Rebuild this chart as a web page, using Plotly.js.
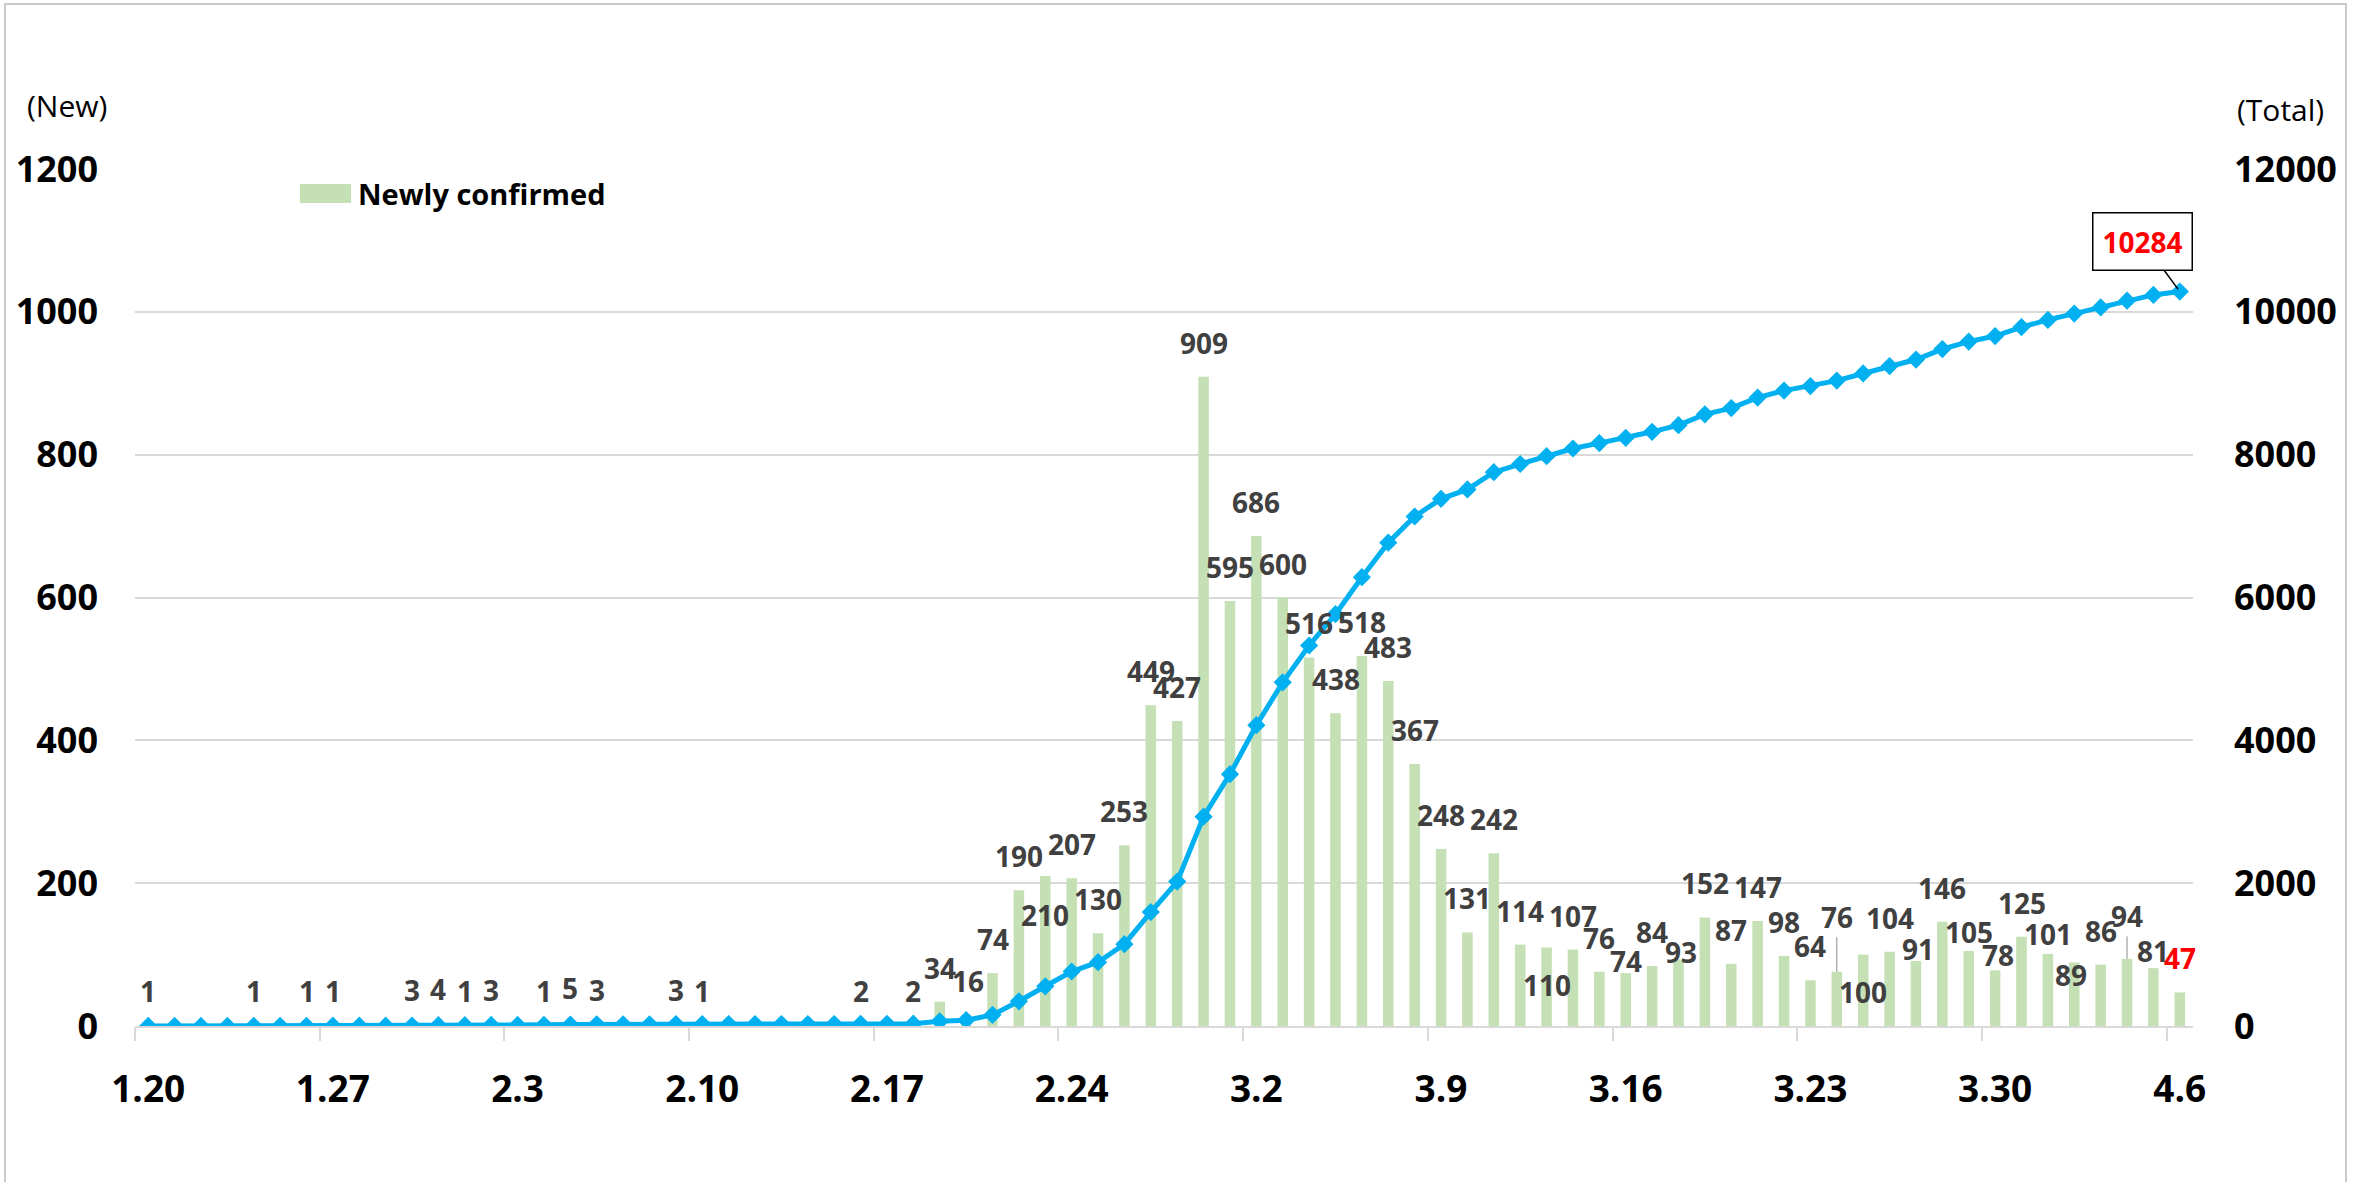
<!DOCTYPE html>
<html>
<head>
<meta charset="utf-8">
<script src="https://cdn.plot.ly/plotly-3.0.1.min.js"></script>
<style>
  html, body { margin: 0; padding: 0; background: #fff; }
  #chart { width: 2371px; height: 1182px; }
  #frame { position: absolute; left: 4px; top: 3px; width: 2339px; height: 1190px;
           border: 2px solid #CACACA; pointer-events: none; }
</style>
</head>
<body>
<div id="chart"></div>
<div id="frame"></div>
<script>
// ---- data ----
const dates = ["1.20","1.21","1.22","1.23","1.24","1.25","1.26","1.27","1.28","1.29",
  "1.30","1.31","2.1","2.2","2.3","2.4","2.5","2.6","2.7","2.8",
  "2.9","2.10","2.11","2.12","2.13","2.14","2.15","2.16","2.17","2.18",
  "2.19","2.20","2.21","2.22","2.23","2.24","2.25","2.26","2.27","2.28",
  "2.29","3.1","3.2","3.3","3.4","3.5","3.6","3.7","3.8","3.9",
  "3.10","3.11","3.12","3.13","3.14","3.15","3.16","3.17","3.18","3.19",
  "3.20","3.21","3.22","3.23","3.24","3.25","3.26","3.27","3.28","3.29",
  "3.30","3.31","4.1","4.2","4.3","4.4","4.5","4.6"];
const newlyConfirmed = [1,0,0,0,1,0,1,1,0,0,
  3,4,1,3,0,1,5,3,0,0,
  3,1,0,0,0,0,0,2,0,2,
  34,16,74,190,210,207,130,253,449,427,
  909,595,686,600,516,438,518,483,367,248,
  131,242,114,110,107,76,74,84,93,152,
  87,147,98,64,76,100,104,91,146,105,
  78,125,101,89,86,94,81,47];
const totalConfirmed = [1,1,1,1,2,2,3,4,4,4,
  7,11,12,15,15,16,21,24,24,24,
  27,28,28,28,28,28,28,30,30,32,
  66,82,156,346,556,763,893,1146,1595,2022,
  2931,3526,4212,4812,5328,5766,6284,6767,7134,7382,
  7513,7755,7869,7979,8086,8162,8236,8320,8413,8565,
  8652,8799,8897,8961,9037,9137,9241,9332,9478,9583,
  9661,9786,9887,9976,10062,10156,10237,10284];
const tickLabels = ["1.20","1.27","2.3","2.10","2.17","2.24","3.2","3.9","3.16","3.23","3.30","4.6"];
const leftTicks = [0,200,400,600,800,1000,1200];
const rightTicks = [0,2000,4000,6000,8000,10000,12000];

// ---- label placement tweaks (style only, pixels above bar top) ----
const defaultLift = 34;
const liftOverride = {34:-39, 53:-38, 56:12, 58:8, 65:-37, 67:12, 69:19, 70:15, 72:20, 73:-13, 76:17};
const nudgeX = {58:2, 67:2, 70:3, 73:-3, 31:2};
const leaderLift = {64:55, 75:43};
const redLabel = {77:true};

// ---- geometry ----
const W = 2371, H = 1182;
const M = {l:135, r:178, t:169, b:156};
const PW = W - M.l - M.r, PH = H - M.t - M.b;
const px = v => (v - M.l) / PW;
const py = v => (H - M.b - v) / PH;

const FONT = "Open Sans, Noto Sans, DejaVu Sans, sans-serif";
const idx = dates.map((d, i) => i);
const tickvals = tickLabels.map(t => dates.indexOf(t));

const bars = {
  type: 'bar', x: idx, y: newlyConfirmed, yaxis: 'y', width: 0.4,
  marker: {color: '#C5E0B4'}, hoverinfo: 'skip', showlegend: false
};
const line = {
  type: 'scatter', mode: 'lines+markers', x: idx, y: totalConfirmed, yaxis: 'y2',
  line: {color: '#00B0F0', width: 5},
  marker: {symbol: 'diamond', size: 14, color: '#00B0F0'},
  hoverinfo: 'skip', showlegend: false
};

const annotations = [];
newlyConfirmed.forEach((v, i) => {
  if (!v) return;
  const color = redLabel[i] ? '#FF0000' : '#404040';
  const base = {x: i, y: v, xref: 'x', yref: 'y', text: String(v),
    font: {family: FONT, size: 28, color: color, weight: 'bold'}};
  if (leaderLift[i] !== undefined) {
    annotations.push(Object.assign(base, {showarrow: true, arrowhead: 0, arrowwidth: 1,
      arrowcolor: '#8C8C8C', ax: 0, ay: -leaderLift[i], standoff: 0}));
  } else {
    const lift = liftOverride[i] !== undefined ? liftOverride[i] : defaultLift;
    annotations.push(Object.assign(base, {showarrow: false, yshift: lift,
      xshift: nudgeX[i] || 0, yanchor: 'middle'}));
  }
});

// callout for the latest total
const last = totalConfirmed.length - 1;
annotations.push({x: last, y: totalConfirmed[last], xref: 'x', yref: 'y2',
  text: String(totalConfirmed[last]), showarrow: true, arrowhead: 0, arrowwidth: 1.5,
  arrowcolor: '#000', ax: -37, ay: -50, standoff: 3,
  bgcolor: '#FFFFFF', bordercolor: '#000000', borderwidth: 1.5, borderpad: 9,
  font: {family: FONT, size: 28, color: '#FF0000', weight: 'bold'}});

// axis unit captions
annotations.push({xref: 'paper', yref: 'paper', x: px(67), y: py(106), text: '(New)',
  showarrow: false, xanchor: 'center', yanchor: 'middle',
  font: {family: FONT, size: 30, color: '#000'}});
annotations.push({xref: 'paper', yref: 'paper', x: px(2280), y: py(109), text: '(Total)',
  showarrow: false, xanchor: 'center', yanchor: 'middle',
  font: {family: FONT, size: 30, color: '#000'}});
// legend text
annotations.push({xref: 'paper', yref: 'paper', x: px(356), y: py(193), text: 'Newly confirmed',
  showarrow: false, xanchor: 'left', yanchor: 'middle',
  font: {family: FONT, size: 29, color: '#000', weight: 'bold'}});

const shapes = [{type: 'rect', xref: 'paper', yref: 'paper',
  x0: px(300), x1: px(351), y0: py(203), y1: py(184),
  fillcolor: '#C5E0B4', line: {width: 0}}];

const tickFont = {family: FONT, size: 36, color: '#000', weight: 'bold'};

const layout = {
  width: W, height: H, margin: M,
  paper_bgcolor: '#fff', plot_bgcolor: '#fff',
  showlegend: false, bargap: 0.6,
  xaxis: {range: [-0.5, 77.5], tickmode: 'array', tickvals: tickvals, ticktext: tickLabels,
    ticks: '', showgrid: false, zeroline: false, showline: true, linecolor: '#D9D9D9', linewidth: 2,
    tickfont: Object.assign({}, tickFont, {size: 37}), ticklabelstandoff: 30,
    minor: {tick0: -0.5, dtick: 7, ticks: 'outside', ticklen: 13, tickwidth: 2,
      tickcolor: '#D9D9D9', showgrid: false},
    fixedrange: true},
  yaxis: {range: [0, 1200], tickmode: 'array', tickvals: leftTicks, ticks: '',
    showgrid: true, gridcolor: '#D9D9D9', gridwidth: 2, zeroline: false, showline: false,
    tickfont: tickFont, ticklabelstandoff: 36, tickformat: 'd', fixedrange: true},
  yaxis2: {range: [0, 12000], tickmode: 'array', tickvals: rightTicks,
    ticktext: rightTicks.map(String), ticks: '',
    overlaying: 'y', side: 'right', showgrid: false, zeroline: false, showline: false,
    tickfont: tickFont, ticklabelstandoff: 40, fixedrange: true},
  annotations: annotations, shapes: shapes
};

Plotly.newPlot('chart', [bars, line], layout, {staticPlot: true, displayModeBar: false});
</script>
</body>
</html>
